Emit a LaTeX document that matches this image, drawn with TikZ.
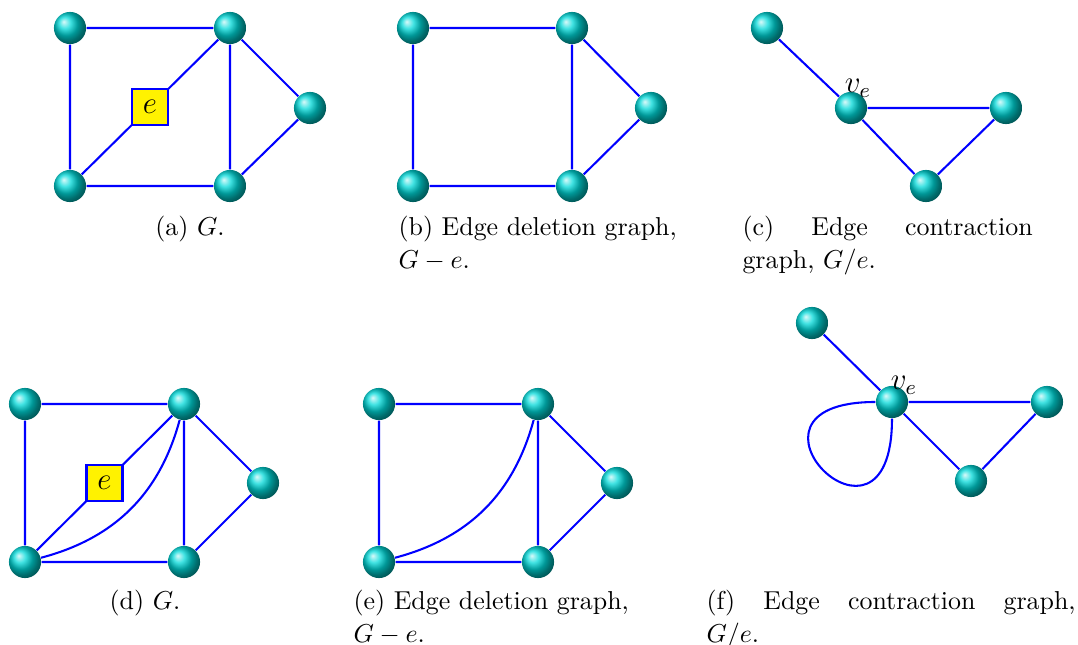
\documentclass[tikz,border=0pt]{standalone}
\begin{document}
\begin{tikzpicture}[x=0.386pt, y=-0.386pt,
  vtx/.style={circle, ball color=cyan!85!black, minimum size=12.4pt, inner sep=0pt},
  edg/.style={blue, thick},
  ebox/.style={draw=blue, thick, fill=yellow, text=black, minimum size=13.9pt, inner sep=0pt, font=\large},
  cap/.style={anchor=base west, inner sep=0pt, text width=#1, align=justify, font=\linespread{1.06}\selectfont}]
  \useasboundingbox (0,0) rectangle (1078,645);
  % (a) G
  \node[vtx] (a1) at (70,28) {};
  \node[vtx] (a2) at (230,28) {};
  \node[vtx] (a3) at (70,186) {};
  \node[vtx] (a4) at (230,186) {};
  \node[vtx] (a5) at (310,108) {};
  \draw[edg] (a1) -- (a2) (a1) -- (a3) (a3) -- (a4) (a2) -- (a4) (a2) -- (a5) (a4) -- (a5);
  \draw[edg] (a3) -- node[ebox] (ea) {$e$} (a2);
  \node[anchor=base] (capa) at (190,236) {(a) $G$.};
  % (b) G - e
  \node[vtx] (b1) at (413,28) {};
  \node[vtx] (b2) at (572,28) {};
  \node[vtx] (b3) at (413,186) {};
  \node[vtx] (b4) at (572,186) {};
  \node[vtx] (b5) at (651,108) {};
  \draw[edg] (b1) -- (b2) (b1) -- (b3) (b3) -- (b4) (b2) -- (b4) (b2) -- (b5) (b4) -- (b5);
  \node[cap=112pt] (capb) at (398,236) {(b) Edge deletion graph,\\ $G-e$.};
  % (c) G/e
  \node[vtx] (c1) at (767,28) {};
  \node[vtx] (vc) at (851,108) {};
  \node[vtx] (c3) at (1006,108) {};
  \node[vtx] (c4) at (926,186) {};
  \draw[edg] (c1) -- (vc) (vc) -- (c3) (vc) -- (c4) (c3) -- (c4);
  \node[font=\large] (vcl) at (858,88) {$v_e$};
  \node[cap=112pt] (capc) at (742,236) {(c) Edge contraction\linebreak graph, $G/e$.};
  % (d) G with parallel edge
  \node[vtx] (d1) at (25,404) {};
  \node[vtx] (d2) at (184,404) {};
  \node[vtx] (d3) at (25,562) {};
  \node[vtx] (d4) at (184,562) {};
  \node[vtx] (d5) at (263,483) {};
  \draw[edg] (d1) -- (d2) (d1) -- (d3) (d3) -- (d4) (d2) -- (d4) (d2) -- (d5) (d4) -- (d5);
  \draw[edg] (d3) -- node[ebox] (ed) {$e$} (d2);
  \draw[edg] (d3) to[bend right=30] (d2);
  \node[anchor=base] (capd) at (145,610) {(d) $G$.};
  % (e) G - e
  \node[vtx] (e1) at (379,404) {};
  \node[vtx] (e2) at (538,404) {};
  \node[vtx] (e3) at (379,562) {};
  \node[vtx] (e4) at (538,562) {};
  \node[vtx] (e5) at (617,483) {};
  \draw[edg] (e1) -- (e2) (e1) -- (e3) (e3) -- (e4) (e2) -- (e4) (e2) -- (e5) (e4) -- (e5);
  \draw[edg] (e3) to[bend right=30] (e2);
  \node[cap=112pt] (cape) at (353,610) {(e) Edge deletion graph,\\ $G-e$.};
  % (f) G/e with loop
  \node[vtx] (f1) at (812,323) {};
  \node[vtx] (vf) at (892,402) {};
  \node[vtx] (f3) at (1047,402) {};
  \node[vtx] (f4) at (971,481) {};
  \draw[edg] (f1) -- (vf) (vf) -- (f3) (vf) -- (f4) (f3) -- (f4);
  \draw[edg] (vf) to[out=180, in=270, distance=62pt] (vf);
  \node[font=\large] (vfl) at (904,385) {$v_e$};
  \node[cap=142.5pt] (capf) at (706,610) {(f) Edge contraction graph,\linebreak $G/e$.};
\end{tikzpicture}
\end{document}
